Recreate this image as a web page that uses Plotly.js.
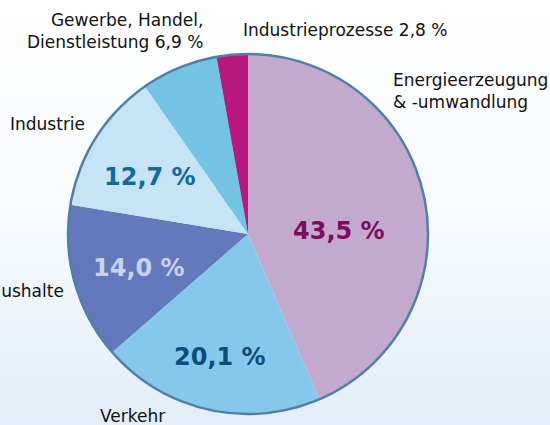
<!DOCTYPE html>
<html>
<head>
<meta charset="utf-8">
<script src="https://cdn.plot.ly/plotly-3.0.1.min.js"></script>
<style>
  html, body { margin: 0; padding: 0; }
  #chart { width: 550px; height: 425px; background: linear-gradient(#ffffff 0%, #f8fbfe 45%, #e3eef8 100%); }
</style>
</head>
<body>
<div id="chart"></div>
<script>
// Anteile der Sektoren in Prozent, im Uhrzeigersinn ab 12 Uhr
const sektoren = ['Energieerzeugung<br>& -umwandlung', 'Verkehr', 'Haushalte', 'Industrie', 'Gewerbe, Handel,<br>Dienstleistung', 'Industrieprozesse'];
const anteile = [43.5, 20.1, 14.0, 12.7, 6.9, 2.8];
const wertAussen = [false, false, false, false, true, true]; // kleine Stücke: Wert steht beim Namen

const farben = ['#c4a9cf', '#86c8ec', '#6479bb', '#c7e3f6', '#72c3e4', '#b8177f'];
const textfarben = ['#7e0c5e', '#0c4e78', '#cad3ee', '#0e6b9c', '#000000', '#000000'];

// Lage der Namen ausserhalb (Pixel im 550x425 Bild)
const namenPos = [
    { x: 391, y: 91, xa: 'left', al: 'left' },
    { x: 132, y: 416, xa: 'center', al: 'center' },
    { x: 66, y: 291, xa: 'right', al: 'right' },
    { x: 8, y: 124, xa: 'left', al: 'left' },
    { x: 205, y: 31, xa: 'right', al: 'right' },
    { x: 241, y: 30, xa: 'left', al: 'left' }
];
// Lage der Prozentwerte im Stück
const wertPos = [[339, 231], [220, 357], [139, 268], [150, 177], null, null];

const W = 550, H = 425;
const fmt = v => v.toFixed(1).replace('.', ',') + ' %';

const pie = {
    type: 'pie',
    values: anteile,
    labels: sektoren,
    sort: false,
    direction: 'clockwise',
    rotation: 0,
    marker: { colors: farben, line: { width: 0 } },
    textinfo: 'none',
    hoverinfo: 'none',
    domain: { x: [68 / W, 428 / W], y: [1 - 414 / H, 1 - 54 / H] },
    showlegend: false
};

const annotations = [];
sektoren.forEach((s, i) => {
    annotations.push({
        xref: 'paper', yref: 'paper',
        x: namenPos[i].x / W, y: 1 - namenPos[i].y / H,
        xanchor: namenPos[i].xa, yanchor: 'middle', align: namenPos[i].al,
        text: s + (wertAussen[i] ? ' ' + fmt(anteile[i]) : ''),
        showarrow: false,
        font: { family: 'DejaVu Sans', size: 17, color: '#111111' }
    });
    if (wertPos[i]) {
        annotations.push({
            xref: 'paper', yref: 'paper',
            x: wertPos[i][0] / W, y: 1 - wertPos[i][1] / H,
            xanchor: 'center', yanchor: 'middle',
            text: fmt(anteile[i]),
            showarrow: false,
            font: { family: 'DejaVu Sans', size: 24, weight: 'bold', color: textfarben[i] }
        });
    }
});

const layout = {
    width: W, height: H,
    margin: { l: 0, r: 0, t: 0, b: 0 },
    paper_bgcolor: 'rgba(0,0,0,0)',
    plot_bgcolor: 'rgba(0,0,0,0)',
    annotations: annotations,
    shapes: [{
        type: 'circle', xref: 'paper', yref: 'paper',
        x0: 68 / W, x1: 428 / W, y0: 1 - 414 / H, y1: 1 - 54 / H,
        line: { color: '#4f80a8', width: 2.5 }
    }]
};

Plotly.newPlot('chart', [pie], layout, { displayModeBar: false, staticPlot: true });
</script>
</body>
</html>
